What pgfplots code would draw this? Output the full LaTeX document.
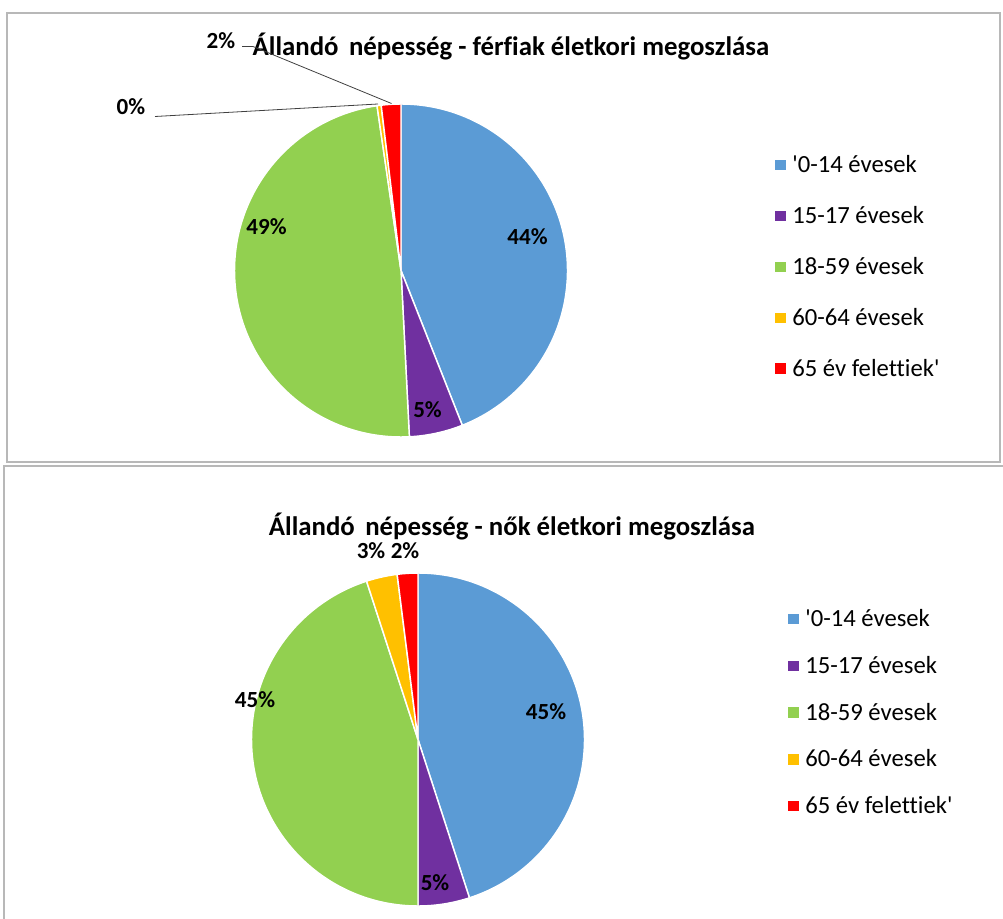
\documentclass[border=0pt]{standalone}
\usepackage{pgfplots}
\pgfplotsset{compat=1.18}
\usepackage{pgfplotstable}
\usepackage{fontspec}
\setmainfont{Carlito}[Ligatures=NoCommon]

\definecolor{c0}{HTML}{5B9BD5}
\definecolor{c1}{HTML}{7030A0}
\definecolor{c2}{HTML}{92D050}
\definecolor{c3}{HTML}{FFC000}
\definecolor{c4}{HTML}{FF0000}

% shares in percent, slices run clockwise from 12 o'clock
\pgfplotstableread{
group value
0 44.0
1 5.2
2 48.5
3 0.4
4 1.9
}\men
\pgfplotstableread{
group value
0 45.0
1 5.0
2 45.0
3 3.0
4 2.0
}\women

\newcommand\pieangles[2]{%
  \xdef\pacc{0}%
  \foreach \i in {0,...,4}{%
    \pgfplotstablegetelem{\i}{value}\of{#1}%
    \pgfmathsetmacro\psa{90-3.6*\pacc}%
    \pgfmathsetmacro\pnew{\pacc+\pgfplotsretval}%
    \pgfmathsetmacro\pea{90-3.6*\pnew}%
    \expandafter\xdef\csname #2s\i\endcsname{\psa}%
    \expandafter\xdef\csname #2e\i\endcsname{\pea}%
    \xdef\pacc{\pnew}%
  }%
}
\pieangles{\men}{ms}
\pieangles{\women}{ws}

\newcommand\R{124.875pt}
\newcommand\pieslice[5]{%
  \fill[fill=#5, draw=white, line width=1.1pt] (axis cs:#1,#2) -- ++(#3:\R)
    arc[start angle=#3, end angle=#4, radius=\R] -- cycle;}

\pgfplotsset{
  panel/.style={
    scale only axis, x=0.75pt, y=0.75pt,
    xtick=\empty, ytick=\empty,
    axis line style={black!28, line width=1.1pt},
    clip=false,
    legend cell align=left,
    legend style={draw=none, fill=none, anchor=north west,
      font=\fontsize{18.5}{22}\selectfont, row sep=19.8pt,
      nodes={inner sep=2pt}},
    legend image code/.code={\fill[##1, draw=none] (0pt,-3.9pt) rectangle (7.8pt,3.9pt);
      \path[draw=none, fill=none] (0pt,0pt) rectangle (10.8pt,0.1pt);},
  },
}
\tikzset{
  lbl/.style={font=\bfseries\fontsize{17.3}{20}\selectfont, inner sep=0pt},
  ttl/.style={font=\bfseries\fontsize{20.1}{24}\selectfont, inner sep=0pt},
}

\begin{document}
\begin{tikzpicture}
\path[use as bounding box] (0,0) rectangle (752.25pt,-689.25pt);

% men
\begin{axis}[panel,
  at={(5.25pt,-9.75pt)}, anchor=north west,
  xmin=7, xmax=1000, ymin=-462, ymax=-13,
  legend style={at={(axis cs:771,-150)}},
]
\addlegendimage{fill=c0}\addlegendentry{\textquotesingle 0-14 évesek}
\addlegendimage{fill=c1}\addlegendentry{15-17 évesek}
\addlegendimage{fill=c2}\addlegendentry{18-59 évesek}
\addlegendimage{fill=c3}\addlegendentry{60-64 évesek}
\addlegendimage{fill=c4}\addlegendentry{65 év felettiek\textquotesingle}
\pgfplotsinvokeforeach{0,...,4}{%
  \pieslice{401}{-270.5}{\csname mss#1\endcsname}{\csname mse#1\endcsname}{c#1}}
\node[ttl] at (axis cs:511,-47) {Állandó\, népesség - férfiak életkori megoszlása};
\node[lbl] at (axis cs:527.5,-237) {44\%};
\node[lbl] at (axis cs:427.5,-410) {5\%};
\node[lbl] at (axis cs:266.5,-227) {49\%};
\node[lbl] at (axis cs:131,-107) {0\%};
\node[lbl] at (axis cs:221,-41) {2\%};
\draw[black!75, line width=0.6pt] (axis cs:155,-116.5) -- (axis cs:378,-104);
\draw[black!75, line width=0.6pt] (axis cs:242,-46.5) -- (axis cs:253,-46.5) -- (axis cs:391.5,-103.5);
\end{axis}

% women
\begin{axis}[panel,
  at={(3pt,-349.5pt)}, anchor=north west,
  xmin=4, xmax=1012, ymin=-932, ymax=-466,
  legend style={at={(axis cs:784,-604)}, row sep=16.7pt},
]
\addlegendimage{fill=c0}\addlegendentry{\textquotesingle 0-14 évesek}
\addlegendimage{fill=c1}\addlegendentry{15-17 évesek}
\addlegendimage{fill=c2}\addlegendentry{18-59 évesek}
\addlegendimage{fill=c3}\addlegendentry{60-64 évesek}
\addlegendimage{fill=c4}\addlegendentry{65 év felettiek\textquotesingle}
\pgfplotsinvokeforeach{0,...,4}{%
  \pieslice{418}{-739.5}{\csname wss#1\endcsname}{\csname wse#1\endcsname}{c#1}}
\node[ttl] at (axis cs:512,-527) {Állandó\, népesség - nők életkori megoszlása};
\node[lbl] at (axis cs:546,-712) {45\%};
\node[lbl] at (axis cs:435,-883) {5\%};
\node[lbl] at (axis cs:255,-700) {45\%};
\node[lbl] at (axis cs:371,-551) {3\%};
\node[lbl] at (axis cs:405,-551) {2\%};
\end{axis}
\end{tikzpicture}
\end{document}
